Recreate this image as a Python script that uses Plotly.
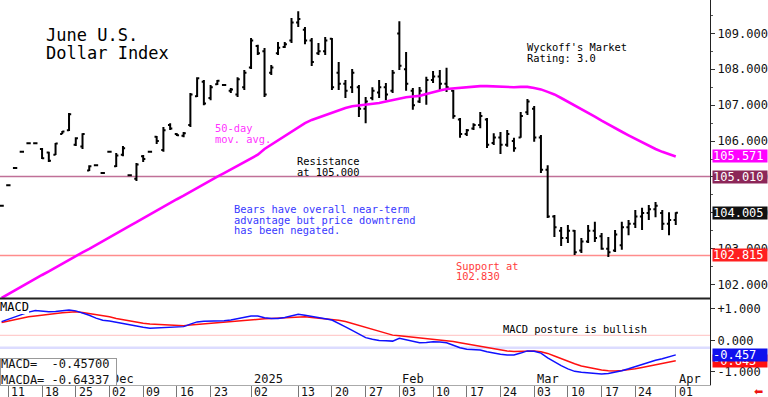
import pandas as pd
import plotly.graph_objects as go

# ---------------- data ----------------
holidays = ["2024-12-25", "2025-01-01"]
dates = [d.strftime("%Y-%m-%d") for d in pd.bdate_range("2024-11-08", "2025-04-01")
         if d.strftime("%Y-%m-%d") not in holidays]

opens = [104.20, 104.77, 105.25, 105.70, 105.94, 105.94, 105.78, 105.68, 105.62, 106.20,
         106.30, 105.90, 105.85, 105.18, 105.33, 105.11, 105.70, 105.30, 105.62, 105.05,
         104.95, 105.58, 105.70, 106.12, 105.75, 106.45, 106.20, 106.15, 106.45, 107.25,
         107.65, 107.20, 107.58, 107.56, 107.40, 107.30, 107.50, 108.05, 108.65, 108.50,
         107.90, 108.45, 108.62, 108.80, 109.30, 109.10, 108.80, 108.45, 108.50, 108.85,
         107.90, 107.60, 107.50, 107.50, 106.90, 107.20, 107.35, 107.50, 107.40, 109.00,
         108.00, 107.40, 107.10, 107.30, 107.70, 107.80, 107.60, 107.40, 106.60, 106.20,
         106.35, 106.45, 106.60, 105.95, 106.10, 105.90, 106.00, 106.10, 106.80, 106.90,
         106.10, 105.20, 103.90, 103.50, 103.30, 103.50, 102.95, 103.20, 103.50, 103.35,
         103.00, 102.95, 103.10, 103.60, 103.70, 103.90, 104.00, 104.10, 104.00, 103.70,
         103.80]
highs = [104.22, 104.79, 105.27, 105.72, 105.96, 105.96, 105.81, 105.70, 105.95, 106.28,
         106.78, 106.11, 106.22, 105.33, 105.35, 105.13, 105.72, 105.67, 105.86, 105.07,
         105.39, 105.61, 105.72, 106.14, 106.39, 106.50, 106.22, 106.25, 107.34, 107.78,
         107.70, 107.56, 107.70, 107.58, 107.48, 107.78, 107.98, 108.87, 108.68, 108.59,
         108.12, 108.76, 108.76, 109.43, 109.62, 109.18, 108.87, 108.73, 108.90, 108.87,
         108.20, 107.70, 108.01, 107.56, 107.23, 107.50, 107.70, 107.62, 107.98, 109.34,
         108.48, 107.48, 107.51, 107.79, 107.95, 107.98, 108.04, 107.42, 106.64, 106.34,
         106.50, 106.81, 106.64, 106.22, 106.25, 106.31, 106.09, 106.81, 107.17, 106.98,
         106.17, 105.33, 103.94, 103.61, 103.66, 103.52, 103.30, 103.66, 103.75, 103.44,
         103.33, 103.52, 103.75, 103.80, 104.08, 104.14, 104.22, 104.30, 104.08, 104.02,
         104.02]
lows = [104.18, 104.75, 105.23, 105.68, 105.92, 105.92, 105.50, 105.42, 105.61, 106.20,
        106.28, 105.86, 105.78, 105.17, 105.31, 105.09, 105.68, 105.28, 105.58, 105.03,
        104.89, 105.42, 105.68, 105.92, 105.70, 106.31, 106.14, 106.11, 106.39, 107.23,
        107.00, 107.14, 107.56, 107.54, 107.34, 107.23, 107.42, 108.01, 108.40, 107.23,
        107.84, 108.40, 108.59, 108.73, 109.18, 108.70, 108.09, 108.40, 108.40, 107.42,
        107.42, 107.20, 107.34, 106.67, 106.50, 107.14, 107.20, 107.14, 107.34, 107.98,
        107.40, 106.87, 107.06, 107.01, 107.62, 107.42, 107.37, 106.62, 106.09, 106.14,
        106.31, 106.36, 105.81, 105.89, 105.64, 105.84, 105.70, 106.09, 106.73, 105.98,
        105.11, 103.86, 103.33, 103.08, 103.16, 102.83, 102.88, 103.16, 103.19, 102.97,
        102.77, 102.91, 102.97, 103.38, 103.58, 103.52, 103.80, 103.88, 103.52, 103.38,
        103.66]
closes = [104.20, 104.77, 105.25, 105.70, 105.94, 105.94, 105.52, 105.45, 105.93, 106.27,
          106.75, 106.08, 106.20, 105.30, 105.33, 105.11, 105.70, 105.60, 105.80, 105.05,
          105.35, 105.50, 105.70, 106.00, 106.30, 106.35, 106.16, 106.22, 107.30, 107.75,
          107.05, 107.50, 107.68, 107.56, 107.44, 107.72, 107.90, 108.80, 108.45, 107.30,
          108.05, 108.60, 108.70, 109.30, 109.40, 108.80, 108.20, 108.50, 108.80, 107.50,
          107.60, 107.40, 107.90, 106.90, 107.10, 107.40, 107.50, 107.30, 107.90, 108.10,
          107.60, 107.00, 107.40, 107.70, 107.80, 107.60, 107.50, 106.70, 106.20, 106.30,
          106.45, 106.70, 105.90, 106.10, 105.90, 106.20, 105.80, 106.70, 107.10, 106.10,
          105.20, 103.90, 103.60, 103.30, 103.50, 102.90, 103.20, 103.50, 103.30, 103.00,
          102.90, 103.40, 103.60, 103.70, 103.90, 104.00, 104.10, 104.20, 103.70, 103.80,
          104.005]
ma50 = [101.63, 101.74, 101.84, 101.95, 102.06, 102.16, 102.27, 102.37, 102.48, 102.58,
        102.69, 102.79, 102.90, 103.00, 103.11, 103.22, 103.32, 103.43, 103.53, 103.64,
        103.74, 103.85, 103.95, 104.06, 104.17, 104.27, 104.38, 104.48, 104.59, 104.69,
        104.80, 104.91, 105.01, 105.11, 105.21, 105.32, 105.42, 105.52, 105.62, 105.78,
        105.90, 106.02, 106.14, 106.26, 106.39, 106.50, 106.59, 106.66, 106.73, 106.80,
        106.86, 106.92, 106.97, 106.99, 107.00, 107.03, 107.06, 107.10, 107.14, 107.19,
        107.22, 107.24, 107.26, 107.31, 107.37, 107.41, 107.45, 107.47, 107.49, 107.51,
        107.52, 107.53, 107.53, 107.52, 107.51, 107.50, 107.50, 107.51, 107.51, 107.48,
        107.44, 107.37, 107.30, 107.20, 107.10, 107.00, 106.90, 106.79, 106.68, 106.57,
        106.46, 106.36, 106.26, 106.16, 106.06, 105.97, 105.88, 105.78, 105.70, 105.63,
        105.571]
macd = [0.60, 0.68, 0.76, 0.83, 0.90, 0.95, 0.93, 0.91, 0.92, 0.95,
        0.97, 0.94, 0.88, 0.80, 0.71, 0.64, 0.62, 0.58, 0.53, 0.48,
        0.45, 0.42, 0.39, 0.40, 0.41, 0.42, 0.43, 0.44, 0.52, 0.59,
        0.61, 0.61, 0.62, 0.63, 0.65, 0.69, 0.74, 0.78, 0.78, 0.72,
        0.70, 0.70, 0.73, 0.78, 0.83, 0.80, 0.77, 0.73, 0.69, 0.65,
        0.55, 0.43, 0.32, 0.20, 0.09, 0.04, 0.00, -0.01, -0.02, 0.07,
        0.02, -0.04, -0.07, -0.06, -0.04, -0.05, -0.07, -0.15, -0.23, -0.28,
        -0.29, -0.30, -0.36, -0.41, -0.44, -0.46, -0.46, -0.40, -0.33, -0.34,
        -0.40, -0.55, -0.68, -0.80, -0.90, -0.98, -1.01, -1.03, -1.05, -1.06,
        -1.05, -1.01, -0.96, -0.90, -0.83, -0.76, -0.68, -0.63, -0.58, -0.53,
        -0.457]
macd_avg = [0.57, 0.62, 0.67, 0.71, 0.75, 0.78, 0.81, 0.84, 0.86, 0.88,
            0.90, 0.91, 0.89, 0.86, 0.83, 0.79, 0.75, 0.70, 0.66, 0.61,
            0.58, 0.55, 0.52, 0.51, 0.49, 0.47, 0.46, 0.47, 0.49, 0.51,
            0.53, 0.55, 0.56, 0.58, 0.60, 0.62, 0.64, 0.66, 0.68, 0.69,
            0.70, 0.71, 0.73, 0.75, 0.76, 0.75, 0.73, 0.71, 0.69, 0.68,
            0.64, 0.60, 0.54, 0.47, 0.40, 0.34, 0.28, 0.22, 0.17, 0.15,
            0.13, 0.11, 0.09, 0.07, 0.04, 0.02, 0.00, -0.03, -0.07, -0.11,
            -0.15, -0.19, -0.23, -0.26, -0.29, -0.33, -0.35, -0.35, -0.34, -0.33,
            -0.36, -0.41, -0.49, -0.58, -0.66, -0.74, -0.81, -0.86, -0.91, -0.94,
            -0.96, -0.97, -0.95, -0.93, -0.90, -0.86, -0.82, -0.78, -0.74, -0.69,
            -0.643]

resistance = 105.010
support = 102.815
macd_upper_ref = 0.165
macd_lower_ref = -0.23

tick_dates = ["2024-11-11", "2024-11-18", "2024-11-25", "2024-12-02", "2024-12-09",
              "2024-12-16", "2024-12-23", "2025-01-02", "2025-01-13", "2025-01-20",
              "2025-01-27", "2025-02-03", "2025-02-10", "2025-02-17", "2025-02-24",
              "2025-03-03", "2025-03-10", "2025-03-17", "2025-03-24", "2025-04-01"]
tick_labels = ["11", "18", "25", "02", "09", "16", "23", "02", "13", "20",
               "27", "03", "10", "17", "24", "03", "10", "17", "24", "01"]
month_dates = ["2024-12-02", "2025-01-02", "2025-02-03", "2025-03-03", "2025-04-01"]
month_labels = ["Dec", "2025", "Feb", "Mar", "Apr"]

# ---------------- figure ----------------
MONO = "DejaVu Sans Mono"
W, H = 768, 397
ML, MR, MT, MB = 0, 55, 0, 12
PW, PH = W - ML - MR, H - MT - MB
SPLIT = (PH - 298.5) / PH

pos = list(range(len(dates)))
tick_pos = [dates.index(d) for d in tick_dates]
month_pos = [dates.index(d) for d in month_dates]
xr = [-0.24, 105.08]

fig = go.Figure()
fig.add_trace(go.Ohlc(
    x=pos, open=opens, high=highs, low=lows, close=closes,
    increasing=dict(line=dict(color="black", width=2)),
    decreasing=dict(line=dict(color="black", width=2)),
    tickwidth=0.32, xaxis="x", yaxis="y", hoverinfo="skip", showlegend=False))
fig.add_trace(go.Scatter(x=pos, y=ma50, mode="lines", line=dict(color="#ff00ff", width=2.6),
                         xaxis="x", yaxis="y", showlegend=False, hoverinfo="skip"))
fig.add_trace(go.Scatter(x=pos, y=macd_avg, mode="lines", line=dict(color="#ff1010", width=1.5),
                         xaxis="x2", yaxis="y2", showlegend=False, hoverinfo="skip"))
fig.add_trace(go.Scatter(x=pos, y=macd, mode="lines", line=dict(color="#1010ff", width=1.5),
                         xaxis="x2", yaxis="y2", showlegend=False, hoverinfo="skip"))

axfont = dict(family=MONO, size=12, color="#111")
fig.update_layout(
    width=W, height=H, margin=dict(l=ML, r=MR, t=MT, b=MB),
    paper_bgcolor="white", plot_bgcolor="white", showlegend=False,
    xaxis=dict(domain=[0, 1], anchor="y", range=xr, showticklabels=False, ticks="",
               showgrid=False, zeroline=False, showline=False,
               rangeslider=dict(visible=False)),
    xaxis2=dict(domain=[0, 1], anchor="y2", range=xr, matches="x", tickmode="array",
                tickvals=tick_pos, ticks="outside", ticklen=12, tickcolor="#777",
                tickwidth=1, showticklabels=False, showgrid=False, zeroline=False,
                showline=True, linecolor="#aaa", linewidth=1,
                rangeslider=dict(visible=False)),
    yaxis=dict(domain=[SPLIT, 1], anchor="x", side="right", range=[101.615, 109.93],
               tickmode="linear", tick0=102, dtick=1, tickformat=".3f",
               ticks="outside", ticklen=4, tickcolor="#333", showline=True,
               linecolor="#222", linewidth=1, showgrid=False, zeroline=False,
               tickfont=axfont,
               minor=dict(dtick=0.5, ticks="outside", ticklen=2, tickcolor="#555")),
    yaxis2=dict(domain=[0, SPLIT], anchor="x2", side="right", range=[-1.413, 1.333],
                tickmode="array", tickvals=[1, 0, -1],
                ticktext=["+1.000", "0.000", "-1.000"],
                ticks="outside", ticklen=4, tickcolor="#333", showline=True,
                linecolor="#222", linewidth=1, showgrid=False, zeroline=False,
                tickfont=axfont),
)

# reference lines
fig.add_shape(type="line", xref="paper", x0=0, x1=1, yref="y", y0=resistance, y1=resistance,
              line=dict(color="#c07098", width=1.5), layer="below")
fig.add_shape(type="line", xref="paper", x0=0, x1=1, yref="y", y0=support, y1=support,
              line=dict(color="#ff8c8c", width=1.5), layer="below")
fig.add_shape(type="line", xref="paper", x0=0, x1=1, yref="y2", y0=macd_upper_ref, y1=macd_upper_ref,
              line=dict(color="#ffc0c0", width=1), layer="below")
fig.add_shape(type="line", xref="paper", x0=0, x1=1, yref="y2", y0=macd_lower_ref, y1=macd_lower_ref,
              line=dict(color="#dcdcff", width=2.5), layer="below")
fig.add_shape(type="line", xref="paper", x0=0, x1=1, yref="paper", y0=SPLIT, y1=SPLIT,
              line=dict(color="#222", width=2))


def px_x(x):
    return x / PW


def px_y(y):
    return (PH - y) / PH


def txt(s, x, y, size=10.4, color="black", anchor="left", bg=None, border=None):
    fig.add_annotation(text=s, x=px_x(x), y=px_y(y), xref="paper", yref="paper",
                       xanchor=anchor, yanchor="middle", showarrow=False, align="left",
                       font=dict(family=MONO, size=size, color=color),
                       bgcolor=bg, bordercolor=border, borderwidth=1 if border else 0,
                       borderpad=0)


# texts
txt("June U.S.", 46, 35.5, size=17)
txt("Dollar Index", 46, 53, size=17)
txt("Wyckoff's Market", 529, 47.5)
txt("Rating: 3.0", 529, 58)
txt("50-day", 216, 128, color="#ff33ff")
txt("mov. avg.", 216, 139, color="#ff33ff")
txt("Resistance", 298, 161)
txt("at 105.000", 298, 171.5)
txt("Bears have overall near-term", 235, 209, color="#3838ff")
txt("advantage but price downtrend", 235, 219.5, color="#3838ff")
txt("has been negated.", 235, 230, color="#3838ff")
txt("Support at", 458, 265.5, color="#ff3c3c")
txt("102.830", 458, 276, color="#ff3c3c")
txt("MACD posture is bullish", 505, 329)
txt("MACD", 0, 306.5, size=12, bg="white")

# month labels
for p, lab in zip(month_pos, month_labels):
    fig.add_annotation(text=lab, x=p, xref="x2", y=px_y(379), yref="paper", xanchor="left",
                       yanchor="middle", showarrow=False, xshift=1,
                       font=dict(family=MONO, size=12, color="#111"))

# MACD value legend box
fig.add_annotation(text="MACD=\u00a0\u00a0-0.45700<br>MACDA=\u00a0-0.64337", x=0, y=px_y(358),
                   xref="paper", yref="paper", xanchor="left", yanchor="top", showarrow=False,
                   align="left", font=dict(family=MONO, size=12, color="#111"),
                   bgcolor="white", bordercolor="#999", borderwidth=1, borderpad=0,
                   width=115, height=26)

# day labels
for p, lab in zip(tick_pos, tick_labels):
    fig.add_annotation(text=lab, x=p, xref="x2", y=px_y(391), yref="paper", xanchor="left",
                       yanchor="middle", showarrow=False, xshift=1, height=11,
                       font=dict(family=MONO, size=11.5, color="#111"))

# last-value boxes on the right axis
def value_box(v, yref, color, label):
    fig.add_annotation(text=label, x=1, xref="paper", y=v, yref=yref, xanchor="left",
                       yanchor="middle", showarrow=False, xshift=2, align="left",
                       font=dict(family=MONO, size=12, color="white"), bgcolor=color,
                       borderpad=0, width=54, height=12)


value_box(ma50[-1], "y", "#ff00ff", f"{ma50[-1]:.3f}")
value_box(resistance, "y", "#8c2658", f"{resistance:.3f}")
value_box(closes[-1], "y", "#111111", f"{closes[-1]:.3f}")
value_box(support, "y", "#ff2020", f"{support:.3f}")
value_box(macd_avg[-1], "y2", "#ff1010", f"{macd_avg[-1]:.3f}")
value_box(macd[-1], "y2", "#1010ee", f"{macd[-1]:.3f}")

fig.add_annotation(text="\u2b05", x=1, xref="paper", y=px_y(391), yref="paper", xanchor="left",
                   xshift=42, yanchor="middle", showarrow=False, height=11,
                   font=dict(family="DejaVu Sans", size=11, color="#ee1111"))

fig.write_html("out.html", config={"displayModeBar": False},
               post_script="document.body.style.margin='0';document.body.style.overflow='hidden';")
